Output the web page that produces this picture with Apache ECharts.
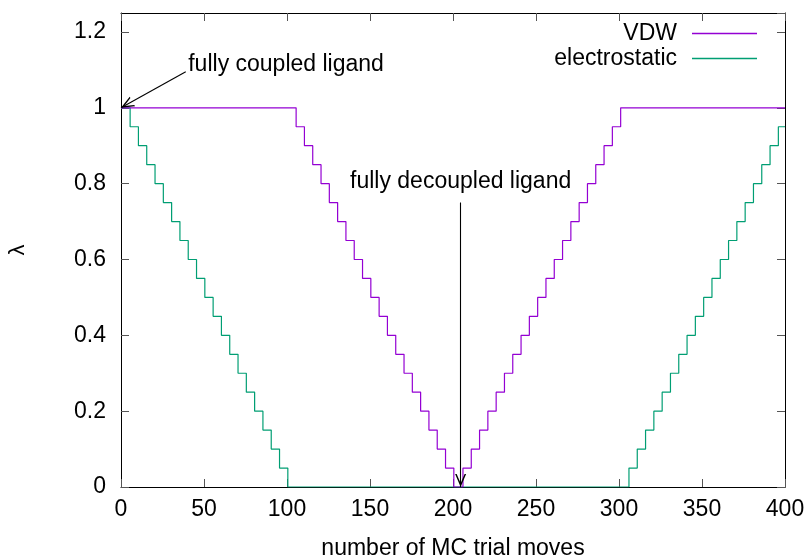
<!DOCTYPE html>
<html><head><meta charset="utf-8">
<script src="https://cdn.jsdelivr.net/npm/echarts@6/dist/echarts.min.js"></script>
<style>html,body{margin:0;padding:0;background:#fff}#c{width:811px;height:557px}</style>
</head><body><div id="c"></div>
<script>
// step change points (x where a new level starts) and levels
const vdwX = [0, 105.5, 110.5, 115.5, 120.5, 125.5, 130.5, 135.5, 140.5, 145.5, 150.5, 155.5, 160.5, 165.5, 170.5, 175.5, 180.5, 185.5, 190.5, 195.5, 200.5,
  206, 211, 216, 221, 226, 231, 236, 241, 246, 251, 256, 261, 266, 271, 276, 281, 286, 291, 296, 301, 400];
const vdwY = [1, 0.95, 0.9, 0.85, 0.8, 0.75, 0.7, 0.65, 0.6, 0.55, 0.5, 0.45, 0.4, 0.35, 0.3, 0.25, 0.2, 0.15, 0.1, 0.05, 0,
  0.05, 0.1, 0.15, 0.2, 0.25, 0.3, 0.35, 0.4, 0.45, 0.5, 0.55, 0.6, 0.65, 0.7, 0.75, 0.8, 0.85, 0.9, 0.95, 1, 1];
const elecX = [0, 5.5, 10.5, 15.5, 20.5, 25.5, 30.5, 35.5, 40.5, 45.5, 50.5, 55.5, 60.5, 65.5, 70.5, 75.5, 80.5, 85.5, 90.5, 95.5, 100.5,
  306, 311, 316, 321, 326, 331, 336, 341, 346, 351, 356, 361, 366, 371, 376, 381, 386, 391, 396, 400];
const elecY = [1, 0.95, 0.9, 0.85, 0.8, 0.75, 0.7, 0.65, 0.6, 0.55, 0.5, 0.45, 0.4, 0.35, 0.3, 0.25, 0.2, 0.15, 0.1, 0.05, 0,
  0.05, 0.1, 0.15, 0.2, 0.25, 0.3, 0.35, 0.4, 0.45, 0.5, 0.55, 0.6, 0.65, 0.7, 0.75, 0.8, 0.85, 0.9, 0.95, 0.95];
const seriesNames = ['VDW', 'electrostatic'];
const xRange = [0, 400, 50];
const yRange = [0, 1.25, 0.2];
const annoText = ['fully coupled ligand', 'fully decoupled ligand'];
const annoTextPos = [[40.5, 1.115], [204.6, 0.806]];
const annoArrows = [[[39, 1.095], [0, 1.0]], [[204.6, 0.75], [204.6, 0]]];

const FONT = '"Liberation Sans", Arial, Helvetica, sans-serif';
const FS = 23;
const zip = (a, b) => a.map((v, i) => [v, b[i]]);
// open arrow head whose tip sits at the symbol centre
const arrowHead = 'path://M5,0 L5,0 M5,12 L10,24 L8.6,24 L5,15.4 L1.4,24 L0,24 Z';

const axisCommon = {
  axisLine: { show: true, onZero: false, lineStyle: { color: '#000', width: 1 } },
  axisTick: { show: true, inside: true, length: 8, lineStyle: { color: '#555', width: 1 } },
  splitLine: { show: false }
};

const chart = echarts.init(document.getElementById('c'), null, { renderer: 'canvas' });
chart.setOption({
  animation: false,
  backgroundColor: '#fff',
  textStyle: { fontFamily: FONT },
  grid: { left: 121, right: 26, top: 13, bottom: 70, containLabel: false, outerBoundsMode: 'none' },
  legend: {
    data: seriesNames, orient: 'vertical', align: 'right', right: 49, top: 17,
    icon: 'rect', itemWidth: 65, itemHeight: 1.3, itemGap: 2,
    textStyle: { fontSize: FS, color: '#000', fontFamily: FONT, lineHeight: 22, padding: [0, 10, 0, 0] }
  },
  xAxis: [
    Object.assign({}, axisCommon, {
      type: 'value', min: xRange[0], max: xRange[1], interval: xRange[2], position: 'bottom',
      name: 'number of MC trial moves', nameLocation: 'middle', nameGap: 50,
      nameTextStyle: { fontSize: FS, color: '#000', fontFamily: FONT },
      axisLabel: { fontSize: FS, color: '#000', margin: 11, fontFamily: FONT }
    }),
    Object.assign({}, axisCommon, {
      type: 'value', min: xRange[0], max: xRange[1], interval: xRange[2], position: 'top',
      axisLabel: { show: false }
    })
  ],
  yAxis: [
    Object.assign({}, axisCommon, {
      type: 'value', min: yRange[0], max: yRange[1], interval: yRange[2], position: 'left',
      name: 'λ', nameLocation: 'middle', nameGap: 92,
      nameTextStyle: { fontSize: 22, color: '#000', fontFamily: FONT },
      axisLabel: { fontSize: FS, color: '#000', margin: 15, showMaxLabel: false, fontFamily: FONT }
    }),
    Object.assign({}, axisCommon, {
      type: 'value', min: yRange[0], max: yRange[1], interval: yRange[2], position: 'right',
      axisLabel: { show: false }
    })
  ],
  series: [
    {
      name: seriesNames[0], type: 'line', step: 'end', symbol: 'none', showSymbol: false,
      data: zip(vdwX, vdwY), color: '#9400d3',
      lineStyle: { color: '#9400d3', width: 1.2 }, z: 3,
      markLine: {
        silent: true, animation: false,
        symbol: ['none', arrowHead], symbolSize: [11, 26],
        lineStyle: { color: '#000', width: 1.1, type: 'solid' },
        itemStyle: { color: '#000' },
        label: { show: false },
        data: annoArrows.map(a => [{ coord: a[0] }, { coord: a[1] }])
      },
      markPoint: {
        silent: true, animation: false, symbol: 'circle', symbolSize: 0,
        itemStyle: { color: 'rgba(0,0,0,0)' },
        data: [
          { coord: annoTextPos[0], label: { show: true, formatter: annoText[0], position: 'right', distance: 0, fontSize: FS, color: '#000', fontFamily: FONT } },
          { coord: annoTextPos[1], label: { show: true, formatter: annoText[1], position: 'inside', fontSize: FS, color: '#000', fontFamily: FONT } }
        ]
      }
    },
    {
      name: seriesNames[1], type: 'line', step: 'end', symbol: 'none', showSymbol: false,
      data: zip(elecX, elecY), color: '#009e73',
      lineStyle: { color: '#009e73', width: 1.2 }, z: 2
    }
  ]
});
</script></body></html>
